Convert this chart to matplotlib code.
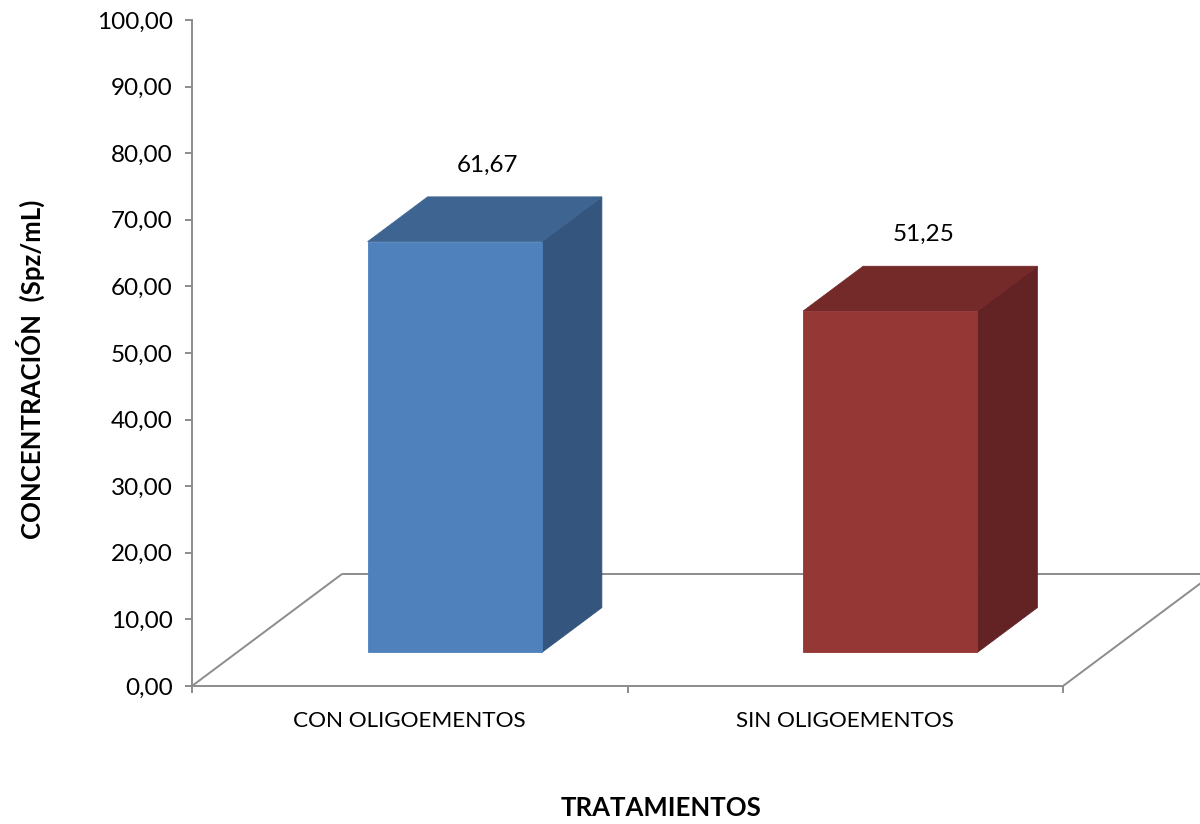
import matplotlib
matplotlib.use("Agg")
import matplotlib.pyplot as plt
from matplotlib.patches import Polygon

plt.rcParams['font.family'] = ['Lato', 'DejaVu Sans']

# Data
categories = ["CON OLIGOEMENTOS", "SIN OLIGOEMENTOS"]
values = [61.67, 51.25]
y_ticks = [0, 10, 20, 30, 40, 50, 60, 70, 80, 90, 100]

# Face colours (front, top, side) for each bar
front_colors = ["#4F81BD", "#953735"]
top_colors = ["#3E6592", "#732A28"]
side_colors = ["#33557E", "#632223"]

GRAY = "#8C8C8C"
DPI = 100
W, H = 1200, 824

fig = plt.figure(figsize=(W / DPI, H / DPI), dpi=DPI)
fig.patch.set_facecolor("white")
ax = fig.add_axes([192 / W, 138 / H, 871 / W, 666 / H])
ax.set_xlim(0, len(categories))
ax.set_ylim(0, 100)
ax.set_facecolor("none")

# pixel -> data scaling for the oblique depth direction
bbox = ax.get_window_extent()
sx = bbox.width / (ax.get_xlim()[1] - ax.get_xlim()[0])
sy = bbox.height / (ax.get_ylim()[1] - ax.get_ylim()[0])
depth_dx = 150 / sx
depth_dy = 112 / sy


def shift(pt, f):
    """Move a point back into the depth of the floor by fraction f."""
    return (pt[0] + f * depth_dx, pt[1] + f * depth_dy)


# Floor outline
n = len(categories)
floor_lines = [
    [(0, 0), shift((0, 0), 1)],
    [shift((0, 0), 1), shift((n, 0), 1)],
    [(n, 0), shift((n, 0), 1)],
]
for seg in floor_lines:
    xs, ys = zip(*seg)
    ax.plot(xs, ys, color=GRAY, lw=1.4, clip_on=False, zorder=1,
            solid_capstyle="butt")

# 3-D columns
bar_w = 0.40
f0, f1 = 0.30, 0.70
for i, (v, fc, tc, sc) in enumerate(zip(values, front_colors, top_colors, side_colors)):
    c = i + 0.5
    xl, xr = c - bar_w / 2, c + bar_w / 2
    front = [shift((xl, 0), f0), shift((xr, 0), f0), shift((xr, v), f0), shift((xl, v), f0)]
    side = [shift((xr, 0), f0), shift((xr, 0), f1), shift((xr, v), f1), shift((xr, v), f0)]
    top = [shift((xl, v), f0), shift((xr, v), f0), shift((xr, v), f1), shift((xl, v), f1)]
    ax.add_patch(Polygon(side, closed=True, facecolor=sc, edgecolor=sc, lw=0.6,
                         clip_on=False, zorder=3))
    ax.add_patch(Polygon(top, closed=True, facecolor=tc, edgecolor=tc, lw=0.6,
                         clip_on=False, zorder=3))
    ax.add_patch(Polygon(front, closed=True, facecolor=fc, edgecolor=fc, lw=0.6,
                         clip_on=False, zorder=4))
    lx, _ = shift((c, v), (f0 + f1) / 2)
    ly = shift((c, v), f1)[1] + 32 / sy
    ax.text(lx + 3 / sx, ly, f"{v:.2f}".replace(".", ","), ha="center", va="center",
            fontsize=17.5, color="black", zorder=5)

# Axes styling
for s in ("top", "right"):
    ax.spines[s].set_visible(False)
for s in ("left", "bottom"):
    ax.spines[s].set_color(GRAY)
    ax.spines[s].set_linewidth(1.4)
    ax.spines[s].set_zorder(2)

ax.set_yticks(y_ticks)
ax.set_yticklabels([f"{t:.2f}".replace(".", ",") for t in y_ticks])
ax.tick_params(axis="y", direction="out", length=5, width=1.4, color=GRAY,
               pad=9, labelsize=17.5)

ax.set_xticks(range(n + 1))
ax.set_xticklabels([])
ax.set_xticks([i + 0.5 for i in range(n)], minor=True)
ax.set_xticklabels(categories, minor=True)
ax.tick_params(axis="x", which="major", direction="out", length=5, width=1.4, color=GRAY)
ax.tick_params(axis="x", which="minor", length=0, pad=18, labelsize=16.2)

fig.text(30 / W, 1 - 369 / H, "CONCENTRACIÓN  (Spz/mL)", rotation=90,
         ha="center", va="center", fontsize=18.5, fontweight="bold")
fig.text(661 / W, 1 - 808 / H, "TRATAMIENTOS", ha="center", va="center",
         fontsize=18.5, fontweight="bold")

fig.savefig("out.png", dpi=DPI, facecolor="white")
